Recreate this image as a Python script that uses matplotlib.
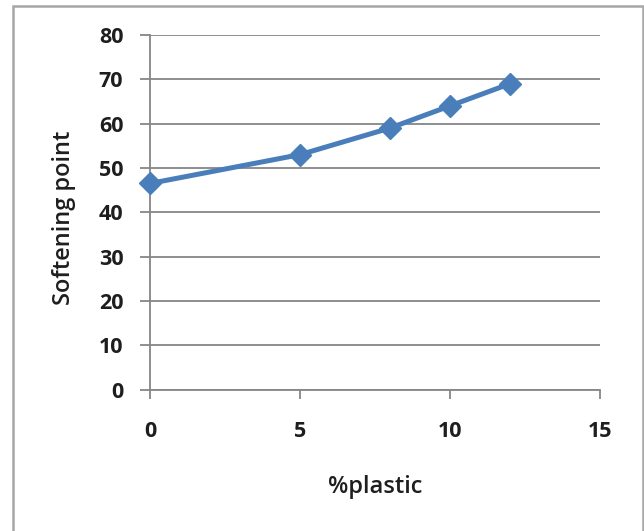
import matplotlib
matplotlib.use("Agg")
import matplotlib.pyplot as plt
from matplotlib.patches import Rectangle

# Softening point vs. plastic content
plastic_pct = [0, 5, 8, 10, 12]
softening_point = [46.5, 53, 59, 64, 69]

x_ticks = [0, 5, 10, 15]
y_ticks = [0, 10, 20, 30, 40, 50, 60, 70, 80]

plt.rcParams["font.family"] = ["Open Sans", "DejaVu Sans"]

W, H = 644, 531
fig = plt.figure(figsize=(W / 100, H / 100), dpi=100)
ax_bottom, ax_h = 389.5, 354.5
ax = fig.add_axes([150 / W, (H - ax_bottom) / H, 450 / W, ax_h / H])

grid_c = "#868686"
text_c = "#1e1e1e"
ax.set_xlim(0, 15)
ax.set_ylim(0, 80)
ax.set_xticks(x_ticks)
ax.set_yticks(y_ticks)
ax.set_xticklabels([str(v) for v in x_ticks], fontsize=15.5, fontweight="bold", color=text_c)
ax.set_yticklabels([str(v) for v in y_ticks], fontsize=15.5, fontweight="bold", color=text_c)

ax.grid(axis="y", color=grid_c, linewidth=1.3)
ax.set_axisbelow(True)
for side in ("top", "right"):
    ax.spines[side].set_visible(False)
for side in ("left", "bottom"):
    ax.spines[side].set_color(grid_c)
    ax.spines[side].set_linewidth(1.3)
ax.tick_params(axis="y", direction="out", length=7.2, width=1.3, color=grid_c, pad=12)
ax.tick_params(axis="x", direction="out", length=6.5, width=1.3, color=grid_c, pad=16.5)

ax.plot(plastic_pct, softening_point, color="#4A7EBB", linewidth=3.6,
        marker="D", markersize=11, markerfacecolor="#4A7EBB",
        markeredgecolor="#4A7EBB", clip_on=False, zorder=3)

ax.set_xlabel("%plastic", fontsize=17, fontweight="semibold", color=text_c)
ax.set_ylabel("Softening point", fontsize=17, fontweight="semibold", color=text_c)
ax.xaxis.label.set_va("center")
ax.yaxis.label.set_va("center")
ax.xaxis.set_label_coords(0.5, (ax_bottom - 487) / ax_h)
ax.yaxis.set_label_coords((64 - 150) / 450, (ax_bottom - 218) / ax_h)

# chart frame
fig.patches.append(Rectangle((13 / W, -0.05), (642.5 - 13) / W, 1.05 - 6 / H,
                             transform=fig.transFigure, fill=False,
                             edgecolor="#a6a6a6", linewidth=1.8))

fig.savefig("out.png", dpi=100)
